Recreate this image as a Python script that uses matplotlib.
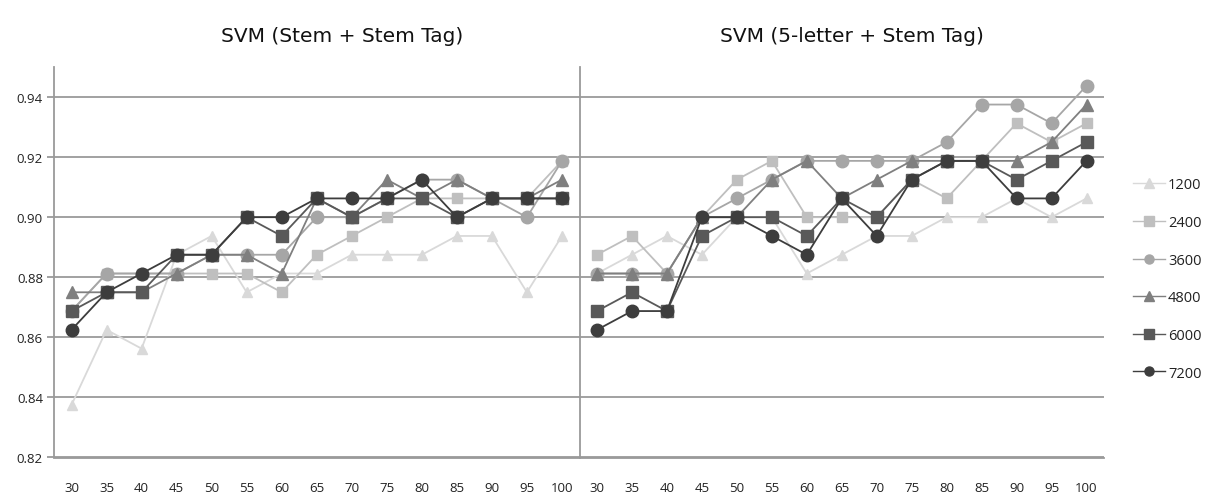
import matplotlib
matplotlib.use("Agg")
import matplotlib.pyplot as plt
from matplotlib.lines import Line2D

# ---------------- data ----------------
x_labels = ["30", "35", "40", "45", "50", "55", "60", "65", "70", "75", "80", "85", "90", "95", "100"]
series_names = ["1200", "2400", "3600", "4800", "6000", "7200"]

left_1200 = [0.8375, 0.8625, 0.85625, 0.8875, 0.89375, 0.875, 0.88125, 0.88125, 0.8875, 0.8875, 0.8875, 0.89375, 0.89375, 0.875, 0.89375]
left_2400 = [0.86875, 0.88125, 0.88125, 0.88125, 0.88125, 0.88125, 0.875, 0.8875, 0.89375, 0.9, 0.90625, 0.90625, 0.90625, 0.90625, 0.91875]
left_3600 = [0.86875, 0.88125, 0.88125, 0.88125, 0.8875, 0.8875, 0.8875, 0.9, 0.9, 0.90625, 0.9125, 0.9125, 0.90625, 0.9, 0.91875]
left_4800 = [0.875, 0.875, 0.875, 0.88125, 0.8875, 0.8875, 0.88125, 0.90625, 0.9, 0.9125, 0.90625, 0.9125, 0.90625, 0.90625, 0.9125]
left_6000 = [0.86875, 0.875, 0.875, 0.8875, 0.8875, 0.9, 0.89375, 0.90625, 0.9, 0.90625, 0.90625, 0.9, 0.90625, 0.90625, 0.90625]
left_7200 = [0.8625, 0.875, 0.88125, 0.8875, 0.8875, 0.9, 0.9, 0.90625, 0.90625, 0.90625, 0.9125, 0.9, 0.90625, 0.90625, 0.90625]

right_1200 = [0.88125, 0.8875, 0.89375, 0.8875, 0.9, 0.9, 0.88125, 0.8875, 0.89375, 0.89375, 0.9, 0.9, 0.90625, 0.9, 0.90625]
right_2400 = [0.8875, 0.89375, 0.88125, 0.9, 0.9125, 0.91875, 0.9, 0.9, 0.9, 0.9125, 0.90625, 0.91875, 0.93125, 0.925, 0.93125]
right_3600 = [0.88125, 0.88125, 0.88125, 0.9, 0.90625, 0.9125, 0.91875, 0.91875, 0.91875, 0.91875, 0.925, 0.9375, 0.9375, 0.93125, 0.94375]
right_4800 = [0.88125, 0.88125, 0.88125, 0.9, 0.9, 0.9125, 0.91875, 0.90625, 0.9125, 0.91875, 0.91875, 0.91875, 0.91875, 0.925, 0.9375]
right_6000 = [0.86875, 0.875, 0.86875, 0.89375, 0.9, 0.9, 0.89375, 0.90625, 0.9, 0.9125, 0.91875, 0.91875, 0.9125, 0.91875, 0.925]
right_7200 = [0.8625, 0.86875, 0.86875, 0.9, 0.9, 0.89375, 0.8875, 0.90625, 0.89375, 0.9125, 0.91875, 0.91875, 0.90625, 0.90625, 0.91875]

titles = ["SVM (Stem + Stem Tag)", "SVM (5-letter + Stem Tag)"]
y_ticks = [0.82, 0.84, 0.86, 0.88, 0.90, 0.92, 0.94]

left_data = [left_1200, left_2400, left_3600, left_4800, left_6000, left_7200]
right_data = [right_1200, right_2400, right_3600, right_4800, right_6000, right_7200]

# ---------------- style ----------------
colors = ["#d9d9d9", "#bfbfbf", "#a6a6a6", "#7f7f7f", "#595959", "#3d3d3d"]
markers = ["^", "s", "o", "^", "s", "o"]
msizes = [7.5, 6.5, 9, 8, 8.5, 9]
grid_col = "#9a9a9a"
tick_font = "Open Sans"

W, H = 1205, 502
fig = plt.figure(figsize=(W / 100, H / 100), dpi=100)

x_left, x_mid, x_right = 54, 579.5, 1104
y_bot, y_top = 458.5, 68
ax1 = fig.add_axes([x_left / W, 1 - y_bot / H, (x_mid - x_left) / W, (y_bot - y_top) / H])
ax2 = fig.add_axes([x_mid / W, 1 - y_bot / H, (x_right - x_mid) / W, (y_bot - y_top) / H])

xs = list(range(len(x_labels)))
for ax, data in [(ax1, left_data), (ax2, right_data)]:
    for vals, c, m, ms in zip(data, colors, markers, msizes):
        ax.plot(xs, vals, color=c, marker=m, markersize=ms, linewidth=1.3,
                markeredgecolor=c, zorder=3)
    ax.set_xlim(-0.5, len(x_labels) - 0.5)
    ax.set_ylim(0.82, 0.95)
    ax.set_yticks(y_ticks)
    ax.grid(axis="y", color=grid_col, linewidth=1.3, zorder=1)
    ax.set_axisbelow(True)
    for s in ["top", "right"]:
        ax.spines[s].set_visible(False)
    ax.spines["bottom"].set_color(grid_col)
    ax.spines["bottom"].set_linewidth(1.3)
    ax.spines["left"].set_color(grid_col)
    ax.spines["left"].set_linewidth(1.3)
    ax.set_xticks(xs)
    ax.set_xticklabels(x_labels, fontfamily=tick_font, fontsize=9.5, color="#222222")
    ax.tick_params(axis="x", length=0, pad=17)

ax1.set_yticklabels(["%.2f" % v for v in y_ticks], fontfamily=tick_font, fontsize=9.5, color="#222222")
ax1.tick_params(axis="y", length=5, color=grid_col, width=1.3, pad=3)
ax2.tick_params(axis="y", length=0, labelleft=False)

fig.text(342 / W, 1 - 37 / H, titles[0], ha="center", va="center", fontsize=14.5,
         fontfamily="DejaVu Sans", color="#111111")
fig.text(852 / W, 1 - 37 / H, titles[1], ha="center", va="center", fontsize=14.5,
         fontfamily="DejaVu Sans", color="#111111")

handles = [Line2D([0], [0], color=c, marker=m, markersize=6.5, linewidth=1.0, markeredgecolor=c)
           for c, m in zip(colors, markers)]
leg = fig.legend(handles, series_names, loc="center left",
                 bbox_to_anchor=(1120 / W, 1 - 280 / H), frameon=False,
                 handlelength=2.2, handletextpad=0.2, labelspacing=1.55,
                 prop={"family": tick_font, "size": 10.5})
for t in leg.get_texts():
    t.set_color("#222222")

fig.savefig("out.png", dpi=100)
